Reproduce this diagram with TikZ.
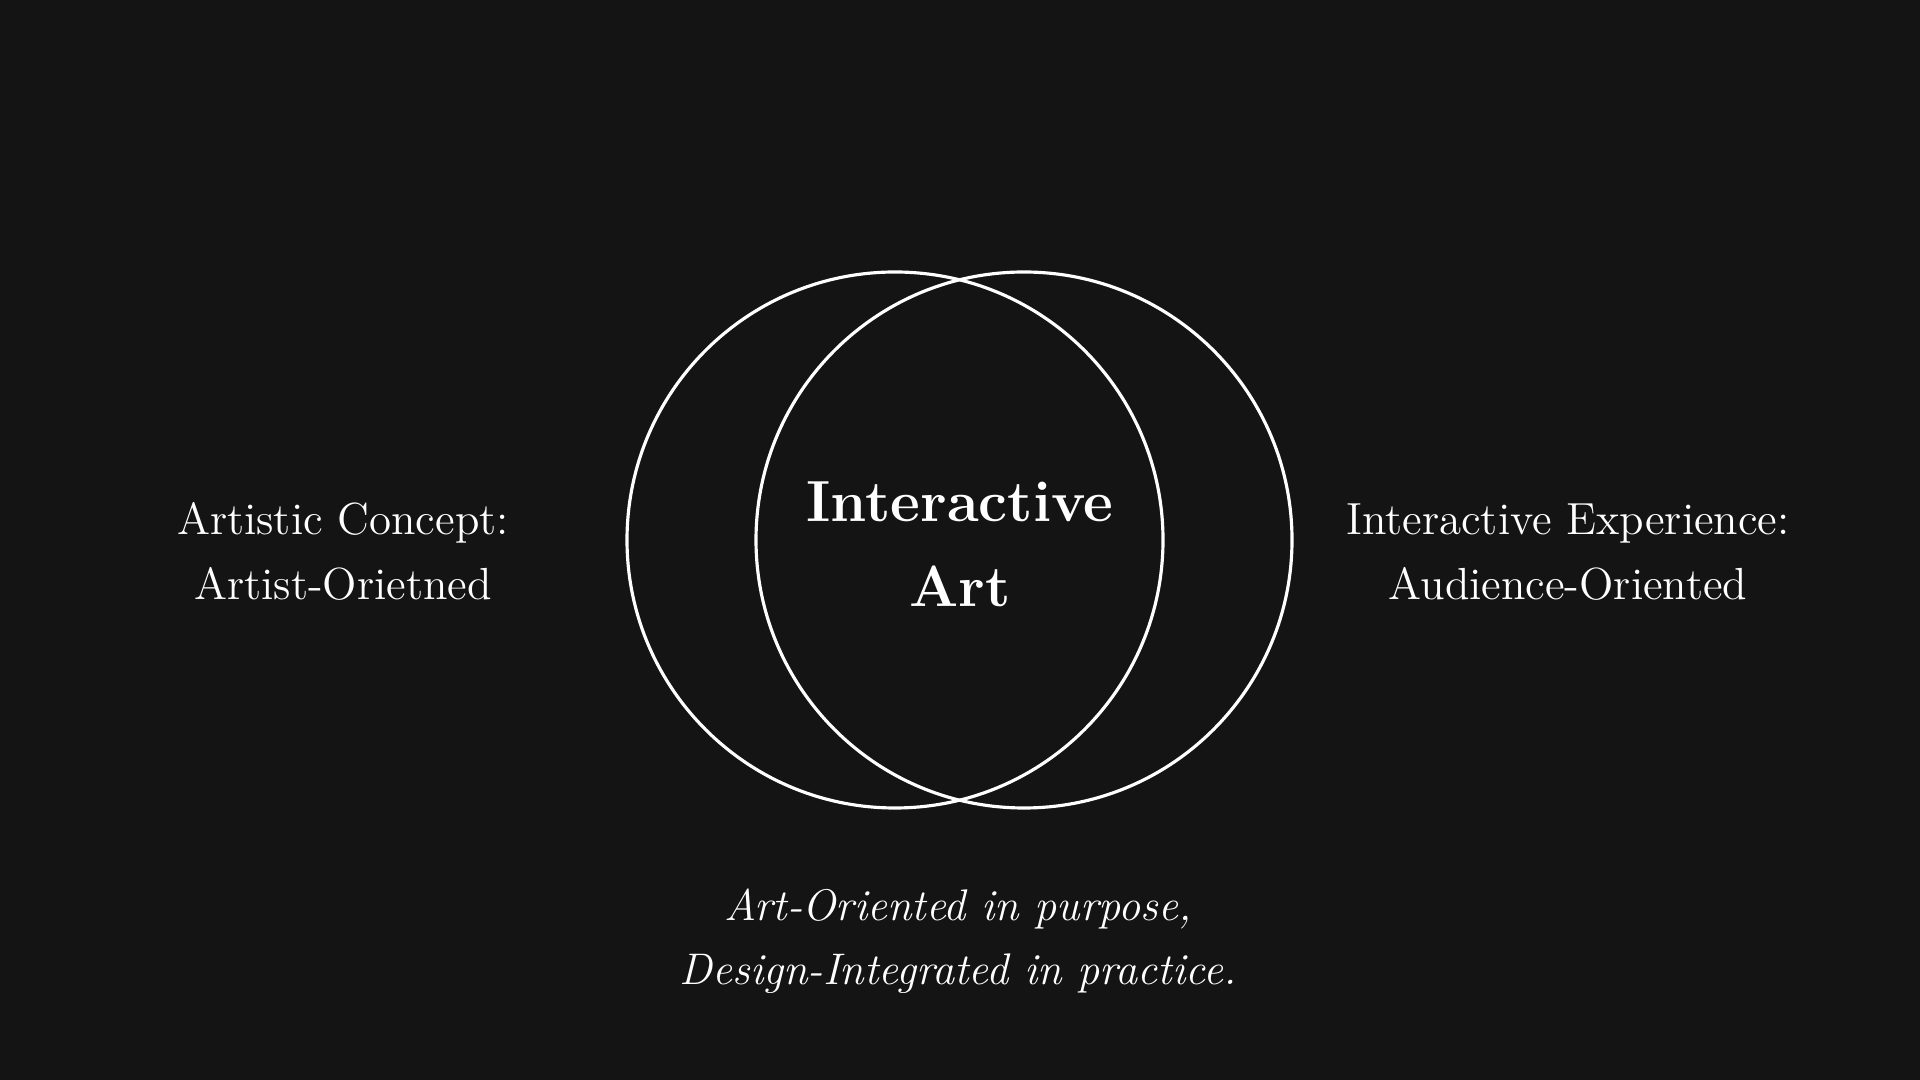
\documentclass[tikz,border=0pt]{standalone}
\usepackage{tikz}
\usetikzlibrary{positioning}
\definecolor{bgdark}{HTML}{141414}

\begin{document}
\begin{tikzpicture}[
    every node/.style={text=white, align=center, inner sep=0pt},
    ring/.style={circle, draw=white, line width=0.9pt, minimum size=5.36cm},
    sidelabel/.style={font=\fontsize{12.8}{18.5}\selectfont, anchor=base},
    corelabel/.style={font=\fontsize{16.5}{24.2}\selectfont\bfseries, anchor=base},
    motto/.style={font=\fontsize{12.6}{18.3}\selectfont\itshape, anchor=base}
]
\fill[bgdark] (0,0) rectangle (19.2,10.8);

\node (artist) [ring] at (8.95,5.40) {};
\node (audience) [ring] at (10.24,5.40) {};

\node (concept) [sidelabel] at (3.43,4.80) {Artistic Concept:\\Artist-Orietned};
\node (experience) [sidelabel] at (15.68,4.80) {Interactive Experience:\\Audience-Oriented};
\node (core) [corelabel] at (9.60,4.73) {Interactive\\Art};
\node (purpose) [motto] at (9.58,0.95) {Art-Oriented in purpose,\\Design-Integrated in practice.};
\end{tikzpicture}
\end{document}
